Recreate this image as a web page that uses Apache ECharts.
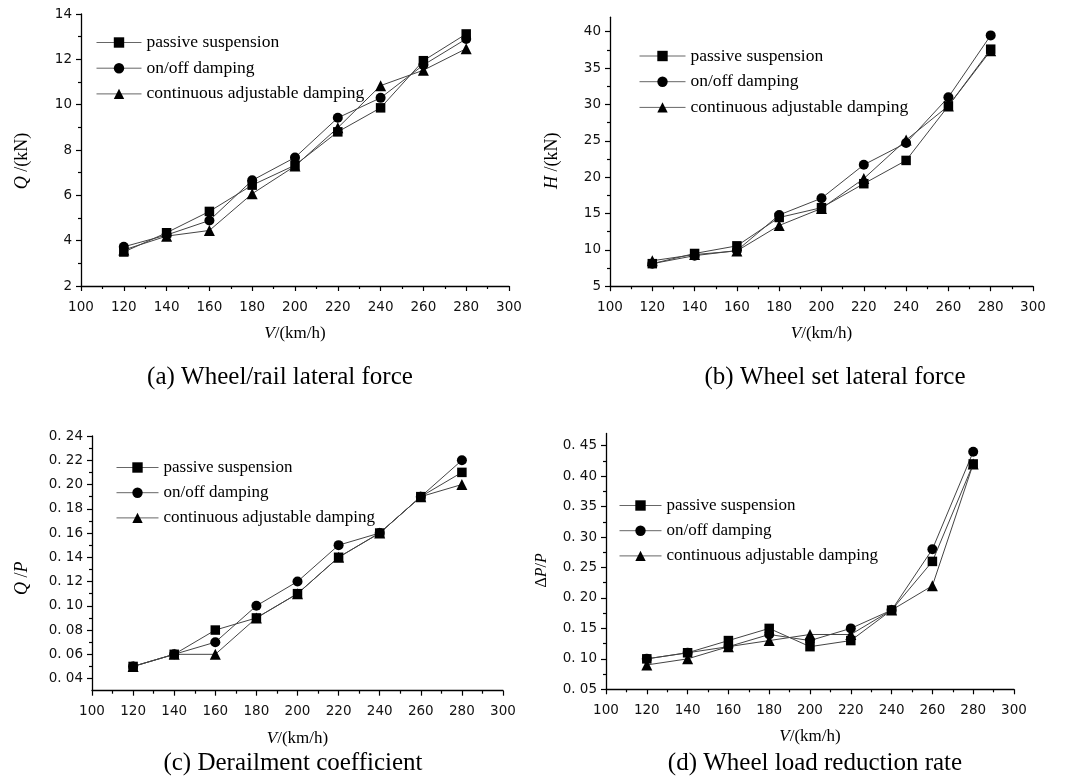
<!DOCTYPE html>
<html>
<head>
<meta charset="utf-8">
<script src="https://cdn.jsdelivr.net/npm/echarts@6/dist/echarts.min.js"></script>
<style>
html,body{margin:0;padding:0;background:#fff;}
#chart{width:1071px;height:780px;}
</style>
</head>
<body>
<div id="chart"></div>
<script>
// ---- data ----
const speeds = [120, 140, 160, 180, 200, 220, 240, 260, 280];
const seriesNames = ['passive suspension', 'on/off damping', 'continuous adjustable damping'];

const aPassive = [3.5, 4.35, 5.29, 6.45, 7.33, 8.8, 9.86, 11.94, 13.12];
const aOnOff   = [3.73, 4.25, 4.89, 6.66, 7.67, 9.42, 10.3, 11.75, 12.9];
const aCont    = [3.59, 4.2, 4.45, 6.07, 7.29, 8.98, 10.84, 11.52, 12.47];

const bPassive = [8.1, 9.5, 10.55, 14.45, 15.8, 19.1, 22.3, 29.8, 37.6];
const bOnOff   = [8.1, 9.2, 9.9, 14.8, 17.1, 21.7, 24.7, 31.0, 39.5];
const bCont    = [8.5, 9.35, 9.85, 13.35, 15.7, 19.8, 25.1, 29.8, 37.4];

const cPassive = [0.05, 0.06, 0.08, 0.09, 0.11, 0.14, 0.16, 0.19, 0.21];
const cOnOff   = [0.05, 0.06, 0.07, 0.10, 0.12, 0.15, 0.16, 0.19, 0.22];
const cCont    = [0.05, 0.06, 0.06, 0.09, 0.11, 0.14, 0.16, 0.19, 0.20];

const dPassive = [0.10, 0.11, 0.13, 0.15, 0.12, 0.13, 0.18, 0.26, 0.42];
const dOnOff   = [0.10, 0.11, 0.12, 0.14, 0.13, 0.15, 0.18, 0.28, 0.44];
const dCont    = [0.09, 0.10, 0.12, 0.13, 0.14, 0.14, 0.18, 0.22, 0.42];

// tick labels
const xTicks = [100, 120, 140, 160, 180, 200, 220, 240, 260, 280, 300];
const aYTicks = [2, 4, 6, 8, 10, 12, 14];
const aYMinor = [3, 5, 7, 9, 11, 13];
const bYTicks = [5, 10, 15, 20, 25, 30, 35, 40];
const bYMinor = [7.5, 12.5, 17.5, 22.5, 27.5, 32.5, 37.5];
const cYTicks = [0.04, 0.06, 0.08, 0.10, 0.12, 0.14, 0.16, 0.18, 0.20, 0.22, 0.24];
const cYMinor = [0.05, 0.07, 0.09, 0.11, 0.13, 0.15, 0.17, 0.19, 0.21, 0.23];
const dYTicks = [0.05, 0.10, 0.15, 0.20, 0.25, 0.30, 0.35, 0.40, 0.45];
const dYMinor = [0.075, 0.125, 0.175, 0.225, 0.275, 0.325, 0.375, 0.425];

const captions = ['(a) Wheel/rail lateral force', '(b) Wheel set lateral force',
                  '(c) Derailment coefficient', '(d) Wheel load reduction rate'];

// ---- layout / style ----
const SERIF = '"Liberation Serif", "Times New Roman", serif';
const SANS = '"DejaVu Sans", Verdana, sans-serif';

const panels = [
  {grid: {left: 81, top: 14, width: 428, height: 272},
   y: {min: 2, max: 14, interval: 2, ticks: aYTicks, minor: aYMinor, fmt: v => String(v)},
   yName: '{i|Q} /(kN)', yNameSize: 18, yGap: 50, yShift: 11,
   data: [aPassive, aOnOff, aCont],
   legend: {left: 96, top: 34, itemWidth: 45, fs: 17.5},
   cap: {x: 280, y: 377}},
  {grid: {left: 610, top: 17.2, width: 423, height: 269},
   y: {min: 5, max: 42, interval: 5, ticks: bYTicks, minor: bYMinor, fmt: v => String(v)},
   yName: '{i|H} /(kN)', yNameSize: 18, yGap: 49, yShift: 9,
   data: [bPassive, bOnOff, bCont],
   legend: {left: 639, top: 47.5, itemWidth: 46, fs: 17.5},
   cap: {x: 835, y: 377}},
  {grid: {left: 92, top: 436, width: 411, height: 254.7},
   y: {min: 0.03, max: 0.24, interval: 0.01, ticks: cYTicks, minor: cYMinor, fmt: v => v.toFixed(2).replace('.', '. ')},
   yName: '{i|Q} /{i|P}', yNameSize: 18, yGap: 61, yShift: 15,
   data: [cPassive, cOnOff, cCont],
   legend: {left: 116, top: 459.5, itemWidth: 42, fs: 17},
   cap: {x: 293, y: 763}},
  {grid: {left: 606, top: 433.5, width: 408, height: 255.8},
   y: {min: 0.05, max: 0.47, interval: 0.05, ticks: dYTicks, minor: dYMinor, fmt: v => v.toFixed(2).replace('.', '. ')},
   yName: 'Δ{i|P}/{i|P}', yNameSize: 16, yGap: 56, yShift: 9,
   data: [dPassive, dOnOff, dCont],
   legend: {left: 619, top: 497.5, itemWidth: 42, fs: 17},
   cap: {x: 815, y: 763}}
];

const symbols = ['rect', 'circle', 'triangle'];
const symbolSizes = [9.5, 10, 11];

const option = {
  backgroundColor: '#fff',
  animation: false,
  grid: [], xAxis: [], yAxis: [], series: [], legend: [], graphic: []
};

panels.forEach((p, i) => {
  option.grid.push(Object.assign({containLabel: false, outerBoundsMode: 'none'}, p.grid));
  option.xAxis.push({
    type: 'value', gridIndex: i, min: 100, max: 300, interval: 20,
    name: '{i|V}/(km/h)', nameLocation: 'middle', nameGap: 39,
    nameTextStyle: {fontFamily: SERIF, fontSize: 17, color: '#000',
      rich: {i: {fontFamily: SERIF, fontSize: 17, fontStyle: 'italic', color: '#000'}}},
    axisLine: {show: true, lineStyle: {color: '#000', width: 1.3}},
    axisTick: {show: true, inside: false, length: 5, lineStyle: {color: '#000', width: 1.2}},
    minorTick: {show: true, splitNumber: 2, length: 3, lineStyle: {color: '#000', width: 1.2}},
    axisLabel: {show: true, margin: 14, fontFamily: SANS, fontSize: 13.5, color: '#111',
      showMinLabel: true, showMaxLabel: true, customValues: xTicks},
    splitLine: {show: false}, minorSplitLine: {show: false}
  });
  // main y axis (labels + major ticks)
  option.yAxis.push({
    type: 'value', gridIndex: i, position: 'left', min: p.y.min, max: p.y.max, interval: p.y.interval,
    name: p.yName, nameLocation: 'middle', nameGap: p.yGap, nameRotate: 90,
    nameTextStyle: {fontFamily: SERIF, fontSize: p.yNameSize, color: '#000',
      padding: [0, 2 * p.yShift, 0, 0],
      rich: {i: {fontFamily: SERIF, fontSize: p.yNameSize, fontStyle: 'italic', color: '#000'}}},
    axisLine: {show: true, onZero: false, lineStyle: {color: '#000', width: 1.3}},
    axisTick: {show: true, inside: false, length: 5, customValues: p.y.ticks, lineStyle: {color: '#000', width: 1.2}},
    axisLabel: {show: true, margin: 9, fontFamily: SANS, fontSize: 13.5, color: '#111',
      customValues: p.y.ticks, formatter: p.y.fmt},
    splitLine: {show: false}
  });
});

// minor-tick overlay y axes (indices 4..7)
panels.forEach((p, i) => {
  option.yAxis.push({
    type: 'value', gridIndex: i, position: 'left', offset: 0, min: p.y.min, max: p.y.max, interval: p.y.interval,
    axisLine: {show: false},
    axisTick: {show: true, inside: false, length: 3, customValues: p.y.minor, lineStyle: {color: '#000', width: 1.2}},
    axisLabel: {show: false},
    splitLine: {show: false}
  });
});

panels.forEach((p, i) => {
  // draw continuous first, passive last (on top)
  [2, 1, 0].forEach(k => {
    option.series.push({
      type: 'line', name: seriesNames[k], xAxisIndex: i, yAxisIndex: i,
      data: speeds.map((s, j) => [s, p.data[k][j]]),
      symbol: symbols[k], symbolSize: symbolSizes[k],
      showSymbol: true, showAllSymbol: true,
      lineStyle: {color: '#444', width: 1},
      itemStyle: {color: '#000', borderWidth: 0},
      emphasis: {disabled: true},
      z: 2 + (2 - k)
    });
  });
  option.legend.push({
    orient: 'vertical', left: p.legend.left, top: p.legend.top - 0.5,
    data: seriesNames.slice(),
    itemWidth: p.legend.itemWidth, itemHeight: 13, itemGap: 25.2 - p.legend.fs,
    lineStyle: {color: '#666', width: 1},
    textStyle: {fontFamily: SERIF, fontSize: p.legend.fs, color: '#000'},
    selectedMode: false, padding: 0,
    inactiveColor: '#000'
  });
  option.graphic.push({
    type: 'text', x: p.cap.x, y: p.cap.y, silent: true,
    style: {text: captions[i], font: '25px ' + SERIF, fill: '#000', align: 'center', verticalAlign: 'middle'}
  });
});

const chart = echarts.init(document.getElementById('chart'), null, {renderer: 'canvas'});
chart.setOption(option);
</script>
</body>
</html>
